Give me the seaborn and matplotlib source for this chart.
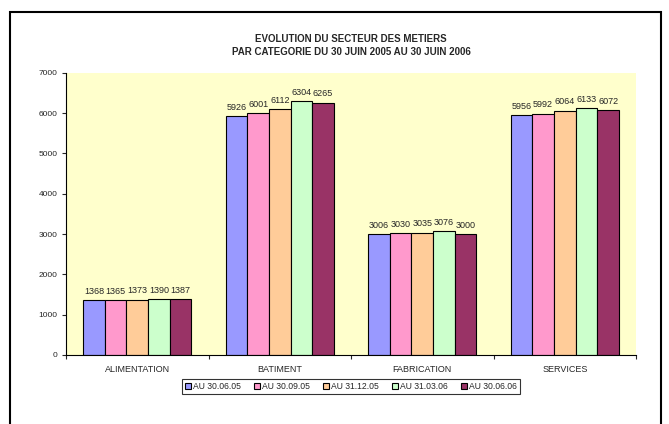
import matplotlib
matplotlib.use("Agg")
import matplotlib.pyplot as plt
import matplotlib.patches as mpatches
import seaborn as sns
import pandas as pd

categories = ["ALIMENTATION", "BATIMENT", "FABRICATION", "SERVICES"]
periods = ["AU 30.06.05", "AU 30.09.05", "AU 31.12.05", "AU 31.03.06", "AU 30.06.06"]
v_300605 = [1368, 5926, 3006, 5956]
v_300905 = [1365, 6001, 3030, 5992]
v_311205 = [1373, 6112, 3035, 6064]
v_310306 = [1390, 6304, 3076, 6133]
v_300606 = [1387, 6265, 3000, 6072]
colors = ["#9999FF", "#FF99CC", "#FFCC99", "#CCFFCC", "#993366"]

series = [v_300605, v_300905, v_311205, v_310306, v_300606]
rows = []
for p, vals in zip(periods, series):
    for c, v in zip(categories, vals):
        rows.append({"cat": c, "period": p, "val": v})
df = pd.DataFrame(rows)

sns.set_style("white")
plt.rcParams["font.family"] = ["Liberation Sans", "DejaVu Sans"]

fig = plt.figure(figsize=(6.69, 4.24), dpi=100)
ax = fig.add_axes([0.0987, 0.163, 0.852, 0.665])
ax.set_facecolor("#FFFFCC")

sns.barplot(data=df, x="cat", y="val", hue="period", palette=colors,
            order=categories, hue_order=periods, width=0.76,
            edgecolor="black", linewidth=0.8, saturation=1, ax=ax, legend=True)

for cont in ax.containers:
    ax.bar_label(cont, fontsize=6.5, padding=3)

ax.set_ylim(0, 7000)
ax.set_xlim(-0.5, 3.5)
ax.set_yticks(range(0, 7001, 1000))
ax.tick_params(axis="y", labelsize=6, length=3, width=0.8, direction="out", left=True, pad=3)
ax.tick_params(axis="x", which="major", labelsize=6.5, length=0, pad=7)
ax.set_xticks([-0.5, 0.5, 1.5, 2.5, 3.5], minor=True)
ax.tick_params(axis="x", which="minor", length=3, width=0.8, direction="out", bottom=True)
ax.set_xlabel("")
ax.set_ylabel("")
for s in ["top", "right"]:
    ax.spines[s].set_visible(False)
for s in ["left", "bottom"]:
    ax.spines[s].set_color("black")
    ax.spines[s].set_linewidth(0.8)

ax.set_title("EVOLUTION DU SECTEUR DES METIERS\nPAR CATEGORIE DU 30 JUIN 2005 AU 30 JUIN 2006",
             fontsize=7, fontweight="bold", pad=13, linespacing=1.3)

leg = ax.legend(loc="upper center", bbox_to_anchor=(0.5, -0.085), ncol=5, fontsize=6.2,
                frameon=True, fancybox=False, edgecolor="black", handlelength=0.7,
                handleheight=0.7, handletextpad=0.2, columnspacing=1.55,
                borderpad=0.35, borderaxespad=0)
leg.get_frame().set_linewidth(0.8)

border = mpatches.Rectangle((10 / 669, -0.05), 651 / 669, 1.05 - 12 / 424,
                            transform=fig.transFigure, fill=False,
                            edgecolor="black", linewidth=1.5, clip_on=False)
fig.patches.append(border)

fig.savefig("out.png", dpi=100, facecolor="white")
